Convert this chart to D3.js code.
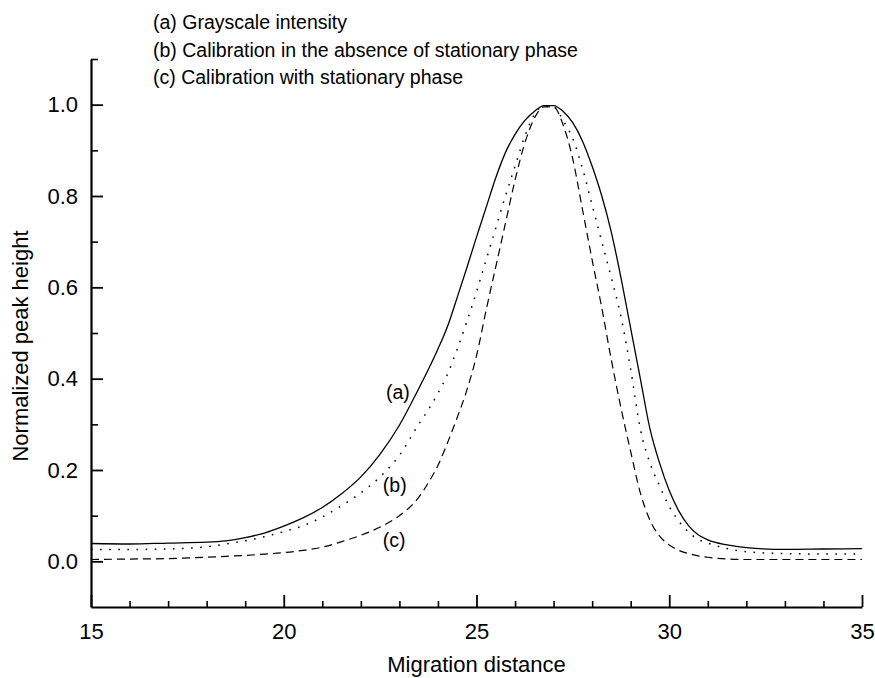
<!DOCTYPE html>
<html>
<head>
<meta charset="utf-8">
<script src="https://cdn.jsdelivr.net/npm/d3@7"></script>
<style>
  html, body { margin: 0; padding: 0; background: #fff; }
  svg { display: block; font-family: "Liberation Sans", Arial, Helvetica, sans-serif; }
</style>
</head>
<body>
<div id="chart"></div>
<script>
// ---------- data ----------
const migration = [15, 16, 17, 18, 18.5, 19, 19.5, 20, 20.5, 21, 21.5, 22, 22.5, 23, 23.5, 23.75,
  24, 24.25, 24.5, 24.75, 25, 25.25, 25.5, 25.75, 26, 26.25, 26.5, 26.75, 27, 27.25, 27.5, 27.75,
  28, 28.25, 28.5, 28.75, 29, 29.25, 29.5, 29.75, 30, 30.25, 30.5, 30.75, 31, 31.5, 32, 33, 34, 35];

const grayscale = [0.039, 0.038, 0.040, 0.042, 0.045, 0.052, 0.062, 0.077, 0.095, 0.118, 0.148, 0.185, 0.235, 0.298, 0.378, 0.42,
  0.465, 0.515, 0.578, 0.643, 0.71, 0.775, 0.84, 0.895, 0.935, 0.965, 0.985, 0.998, 0.998, 0.985, 0.96, 0.92,
  0.865, 0.80, 0.72, 0.62, 0.51, 0.40, 0.29, 0.215, 0.155, 0.11, 0.078, 0.058, 0.047, 0.036, 0.030, 0.026, 0.027, 0.028];

const calibNoStationary = [0.026, 0.026, 0.027, 0.032, 0.038, 0.045, 0.054, 0.065, 0.078, 0.097, 0.122, 0.15, 0.185, 0.232, 0.30, 0.332,
  0.368, 0.41, 0.465, 0.525, 0.59, 0.66, 0.73, 0.80, 0.865, 0.93, 0.978, 0.997, 0.995, 0.965, 0.925, 0.86,
  0.78, 0.70, 0.62, 0.535, 0.42, 0.29, 0.215, 0.165, 0.12, 0.088, 0.064, 0.048, 0.04, 0.028, 0.021, 0.017, 0.016, 0.016];

const calibStationary = [0.004, 0.005, 0.006, 0.009, 0.011, 0.013, 0.016, 0.019, 0.024, 0.031, 0.043, 0.057, 0.075, 0.10, 0.14, 0.172,
  0.21, 0.26, 0.315, 0.375, 0.45, 0.55, 0.645, 0.74, 0.835, 0.915, 0.97, 0.995, 0.995, 0.955, 0.88, 0.77,
  0.66, 0.555, 0.44, 0.335, 0.24, 0.15, 0.09, 0.055, 0.036, 0.024, 0.017, 0.012, 0.009, 0.005, 0.004, 0.004, 0.004, 0.004];

const legendLines = ["(a) Grayscale intensity", "(b) Calibration in the absence of stationary phase", "(c) Calibration with stationary phase"];
const curveLabels = ["(a)", "(b)", "(c)"];
const curveLabelPos = [[22.65, 0.355], [22.57, 0.151], [22.57, 0.031]]; // data coords of in-plot labels (left, baseline)
const xMajorTicks = [15, 20, 25, 30, 35];
const xMinorTicks = [16, 17, 18, 19, 21, 22, 23, 24, 26, 27, 28, 29, 31, 32, 33, 34];
const yMajorTicks = [0.0, 0.2, 0.4, 0.6, 0.8, 1.0];
const yMinorTicks = [0.1, 0.3, 0.5, 0.7, 0.9, 1.1];
const xTitle = "Migration distance";
const yTitle = "Normalized peak height";

// ---------- layout ----------
const W = 875, H = 678;
const margin = { left: 91, right: 13, top: 59, bottom: 71 };

const svg = d3.select("#chart").append("svg").attr("width", W).attr("height", H);

const x = d3.scaleLinear().domain([15, 35]).range([margin.left, W - margin.right]);
const y = d3.scaleLinear().domain([-0.1, 1.1]).range([H - margin.bottom, margin.top]);

// minor ticks
svg.append("g").attr("transform", `translate(0,${H - margin.bottom})`)
  .call(d3.axisBottom(x).tickValues(xMinorTicks).tickSizeInner(-6).tickSizeOuter(0).tickFormat(""))
  .call(g => g.select(".domain").remove())
  .call(g => g.selectAll("line").attr("stroke", "#000").attr("stroke-width", 1.6));
svg.append("g").attr("transform", `translate(${margin.left},0)`)
  .call(d3.axisLeft(y).tickValues(yMinorTicks).tickSizeInner(-7).tickSizeOuter(0).tickFormat(""))
  .call(g => g.select(".domain").remove())
  .call(g => g.selectAll("line").attr("stroke", "#000").attr("stroke-width", 1.6));

// major axes
const xAxis = svg.append("g").attr("transform", `translate(0,${H - margin.bottom})`)
  .call(d3.axisBottom(x).tickValues(xMajorTicks).tickSizeInner(-12).tickSizeOuter(0).tickPadding(18).tickFormat(d3.format("d")));
const yAxis = svg.append("g").attr("transform", `translate(${margin.left},0)`)
  .call(d3.axisLeft(y).tickValues(yMajorTicks).tickSizeInner(-12).tickSizeOuter(0).tickPadding(13).tickFormat(d3.format(".1f")));

[xAxis, yAxis].forEach(a => {
  a.select(".domain").attr("stroke", "#000").attr("stroke-width", 2.2);
  a.selectAll(".tick line").attr("stroke", "#000").attr("stroke-width", 1.8);
  a.selectAll(".tick text").attr("fill", "#000").style("font-size", "22px")
    .style("font-family", "'Liberation Sans', Arial, sans-serif");
});
xAxis.selectAll(".tick text").attr("dy", "0.71em").attr("y", 16);

// titles
svg.append("text")
  .attr("x", (margin.left + W - margin.right) / 2).attr("y", 672)
  .attr("text-anchor", "middle").style("font-size", "22px").text(xTitle);
svg.append("text")
  .attr("transform", `translate(28,346) rotate(-90)`)
  .attr("text-anchor", "middle").style("font-size", "22px").text(yTitle);

// legend (text only)
svg.append("g").selectAll("text").data(legendLines).join("text")
  .attr("x", 153).attr("y", (d, i) => 29 + i * 27.5)
  .style("font-size", "19.5px").text(d => d);

// curves
const series = [
  { values: grayscale, dash: null, width: 1.3 },
  { values: calibNoStationary, dash: "1.6,7.5", width: 1.5 },
  { values: calibStationary, dash: "8,5", width: 1.2 }
];
const line = d3.line().x(d => x(d[0])).y(d => y(d[1])).curve(d3.curveMonotoneX);
series.forEach(s => {
  svg.append("path")
    .datum(migration.map((m, i) => [m, s.values[i]]))
    .attr("fill", "none").attr("stroke", "#000")
    .attr("stroke-width", s.width)
    .attr("stroke-dasharray", s.dash)
    .attr("d", line);
});

// in-plot labels
svg.append("g").selectAll("text").data(curveLabels).join("text")
  .attr("x", (d, i) => x(curveLabelPos[i][0]))
  .attr("y", (d, i) => y(curveLabelPos[i][1]))
  .style("font-size", "19.5px").text(d => d);
</script>
</body>
</html>
